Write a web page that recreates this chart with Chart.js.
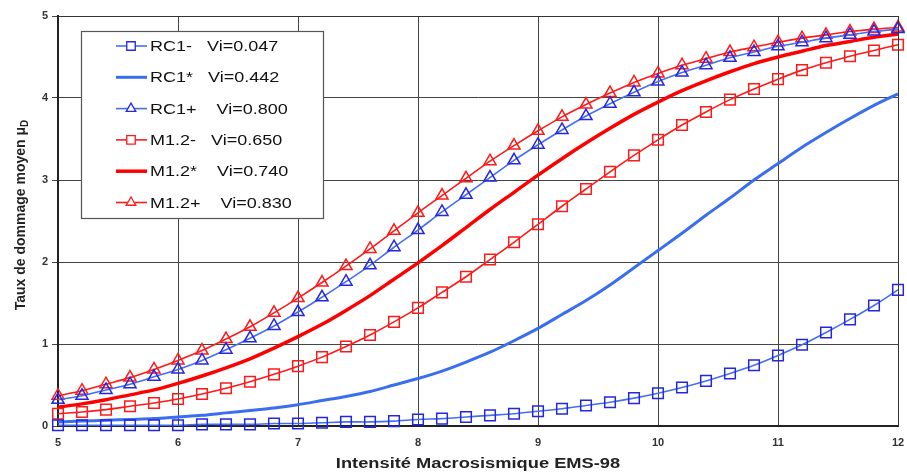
<!DOCTYPE html>
<html>
<head>
<meta charset="utf-8">
<script src="https://cdn.jsdelivr.net/npm/chart.js@4.4.0/dist/chart.umd.min.js"></script>
<style>
html,body{margin:0;padding:0;background:#fff;}
#wrap{width:907px;height:473px;}
</style>
</head>
<body>
<div id="wrap"><canvas id="myChart" width="907" height="473"></canvas></div>
<script>
// intensite EMS-98, pas de 0.2
var intensite = [5,5.2,5.4,5.6,5.8,6,6.2,6.4,6.6,6.8,7,7.2,7.4,7.6,7.8,8,8.2,8.4,8.6,8.8,9,9.2,9.4,9.6,9.8,10,10.2,10.4,10.6,10.8,11,11.2,11.4,11.6,11.8,12];

var rc1Moins = [0.01,0.01,0.01,0.01,0.01,0.01,0.02,0.02,0.02,0.03,0.03,0.04,0.05,0.05,0.06,0.08,0.09,0.11,0.13,0.15,0.18,0.21,0.25,0.29,0.34,0.40,0.47,0.55,0.64,0.74,0.86,0.99,1.14,1.30,1.47,1.66];
var rc1Etoile = [0.05,0.06,0.07,0.08,0.09,0.11,0.13,0.16,0.19,0.22,0.26,0.31,0.36,0.42,0.50,0.58,0.67,0.78,0.90,1.04,1.19,1.36,1.53,1.72,1.93,2.14,2.35,2.57,2.78,3.00,3.20,3.40,3.58,3.75,3.91,4.05];
var rc1Plus = [0.32,0.37,0.44,0.51,0.60,0.69,0.80,0.93,1.07,1.22,1.39,1.57,1.76,1.96,2.18,2.39,2.61,2.82,3.03,3.24,3.43,3.61,3.78,3.93,4.07,4.20,4.31,4.40,4.49,4.56,4.63,4.68,4.73,4.77,4.81,4.84];
var m12Moins = [0.15,0.17,0.20,0.24,0.28,0.33,0.39,0.46,0.54,0.63,0.73,0.84,0.97,1.11,1.27,1.44,1.63,1.82,2.03,2.24,2.46,2.68,2.89,3.10,3.30,3.49,3.67,3.83,3.98,4.11,4.23,4.34,4.43,4.51,4.58,4.65];
var m12Etoile = [0.23,0.27,0.32,0.38,0.44,0.52,0.61,0.71,0.82,0.95,1.09,1.24,1.41,1.59,1.79,1.99,2.20,2.42,2.64,2.85,3.06,3.26,3.45,3.63,3.80,3.95,4.09,4.21,4.32,4.42,4.50,4.57,4.64,4.69,4.74,4.78];
var m12Plus = [0.37,0.43,0.51,0.59,0.69,0.80,0.92,1.06,1.21,1.38,1.56,1.75,1.95,2.16,2.38,2.60,2.81,3.02,3.23,3.42,3.60,3.77,3.92,4.06,4.19,4.30,4.40,4.48,4.56,4.62,4.68,4.73,4.77,4.81,4.84,4.86];

var yTicks = [0,1,2,3,4,5];
var xTicks = [5,6,7,8,9,10,11,12];

function pts(vals){
    var arr = [];
    for(var i=0;i<intensite.length;i++){
        arr.push({x:intensite[i], y:vals[i]});
    }
    return arr;
}

function serie(label,vals,lineColor,markColor,width,marker){
    var r = 0;
    if(marker=='rect') r = 7.5;
    if(marker=='triangle') r = 7;
    return {
        label: label,
        data: pts(vals),
        borderColor: lineColor,
        borderWidth: width,
        pointStyle: marker || 'circle',
        pointRadius: r,
        pointHoverRadius: r,
        pointBorderColor: markColor,
        pointBackgroundColor: 'rgba(255,255,255,0)',
        pointBorderWidth: 1.5,
        tension: 0.3,
        fill: false,
        clip: false
    };
}

var datas = [
    serie('RC1-   Vi=0.047', rc1Moins, '#4470f0', '#2626e0', 1.6, 'rect'),
    serie('RC1*   Vi=0.442', rc1Etoile, '#3a6ef0', '#3a6ef0', 3, null),
    serie('RC1+    Vi=0.800', rc1Plus, '#4470f0', '#2626e0', 1.6, 'triangle'),
    serie('M1.2-   Vi=0.650', m12Moins, '#ff1a1a', '#ff1a1a', 1.6, 'rect'),
    serie('M1.2*    Vi=0.740', m12Etoile, '#ff0000', '#ff0000', 3.5, null),
    serie('M1.2+    Vi=0.830', m12Plus, '#ff1a1a', '#ff1a1a', 1.6, 'triangle')
];

// legende dans le cadre + titres des axes
var decor = {
    id: 'decor',
    afterDraw: function(chart){
        var ctx = chart.ctx;
        var ca = chart.chartArea;
        ctx.save();
        // cadre haut/droite
        ctx.strokeStyle = '#333';
        ctx.lineWidth = 1;
        ctx.beginPath();
        ctx.moveTo(ca.left, ca.top + 0.5);
        ctx.lineTo(ca.right + 0.5, ca.top + 0.5);
        ctx.lineTo(ca.right + 0.5, ca.bottom);
        ctx.stroke();

        // legende
        var bx = 81, by = 31, bw = 242, bh = 187;
        ctx.fillStyle = '#fff';
        ctx.fillRect(bx, by, bw, bh);
        ctx.strokeStyle = '#555';
        ctx.lineWidth = 1.2;
        ctx.strokeRect(bx + 0.5, by + 0.5, bw, bh);
        for(var i=0;i<datas.length;i++){
            var d = datas[i];
            var ry = 46 + i * 31.3;
            ctx.strokeStyle = d.borderColor;
            ctx.lineWidth = d.borderWidth;
            ctx.beginPath();
            ctx.moveTo(116, ry);
            ctx.lineTo(147, ry);
            ctx.stroke();
            if(d.pointRadius > 0){
                ctx.fillStyle = '#fff';
                ctx.strokeStyle = d.pointBorderColor;
                ctx.lineWidth = 1.3;
                Chart.helpers.drawPoint(ctx, {
                    pointStyle: d.pointStyle,
                    radius: d.pointStyle == 'rect' ? 6 : 5.5,
                    borderWidth: 1.3,
                    rotation: 0
                }, 131, ry);
            }
            ctx.save();
            ctx.translate(150, ry + 1);
            ctx.scale(1.2, 1);
            ctx.font = '15px "Liberation Sans", Arial, sans-serif';
            ctx.textBaseline = 'middle';
            ctx.textAlign = 'left';
            ctx.fillStyle = '#111';
            ctx.fillText(d.label, 0, 0);
            ctx.restore();
        }

        // titre axe x
        ctx.save();
        ctx.translate((ca.left + ca.right) / 2, 464);
        ctx.scale(1.26, 1);
        ctx.fillStyle = '#222';
        ctx.font = 'bold 14.5px "Liberation Sans", Arial, sans-serif';
        ctx.textAlign = 'center';
        ctx.textBaseline = 'middle';
        ctx.fillText('Intensité Macrosismique EMS-98', 0, 0);
        ctx.restore();

        // titre axe y avec indice
        ctx.fillStyle = '#222';
        ctx.textBaseline = 'middle';
        ctx.translate(21, 215);
        ctx.rotate(-Math.PI / 2);
        var t1 = 'Taux de dommage moyen \u03bc';
        ctx.font = 'bold 14px "Liberation Sans", Arial, sans-serif';
        var w1 = ctx.measureText(t1).width;
        ctx.font = 'bold 10px "Liberation Sans", Arial, sans-serif';
        var w2 = ctx.measureText('D').width;
        var x0 = -(w1 + w2) / 2;
        ctx.textAlign = 'left';
        ctx.font = 'bold 14px "Liberation Sans", Arial, sans-serif';
        ctx.fillText(t1, x0, 0);
        ctx.font = 'bold 10px "Liberation Sans", Arial, sans-serif';
        ctx.fillText('D', x0 + w1, 4);
        ctx.restore();
    }
};

var ctx = document.getElementById('myChart');
var myChart = new Chart(ctx, {
    type: 'line',
    data: { datasets: datas },
    options: {
        responsive: false,
        animation: false,
        events: [],
        layout: { padding: { top: 16, right: 5, left: 0, bottom: 0 } },
        plugins: {
            legend: { display: false },
            tooltip: { enabled: false }
        },
        scales: {
            x: {
                type: 'linear',
                min: 5, max: 12,
                afterBuildTicks: function(scale){
                    scale.ticks = xTicks.map(function(v){ return {value:v}; });
                },
                afterFit: function(scale){
                    scale.height = 47;
                    scale.paddingLeft = 0;
                    scale.paddingRight = 0;
                },
                grid: { color: '#444', lineWidth: 1, drawTicks: false },
                border: { color: '#222', width: 2 },
                ticks: {
                    padding: 10,
                    color: '#333',
                    font: { family: '"Liberation Sans", Arial, sans-serif', size: 11, weight: 'bold' }
                }
            },
            y: {
                type: 'linear',
                min: 0, max: 5,
                afterBuildTicks: function(scale){
                    scale.ticks = yTicks.map(function(v){ return {value:v}; });
                },
                afterFit: function(scale){
                    scale.width = 58;
                    scale.paddingTop = 0;
                    scale.paddingBottom = 0;
                },
                grid: { color: '#444', lineWidth: 1, tickLength: 6 },
                border: { color: '#222', width: 2 },
                ticks: {
                    padding: 4,
                    color: '#333',
                    font: { family: '"Liberation Sans", Arial, sans-serif', size: 11, weight: 'bold' }
                }
            }
        }
    },
    plugins: [decor]
});
</script>
</body>
</html>
